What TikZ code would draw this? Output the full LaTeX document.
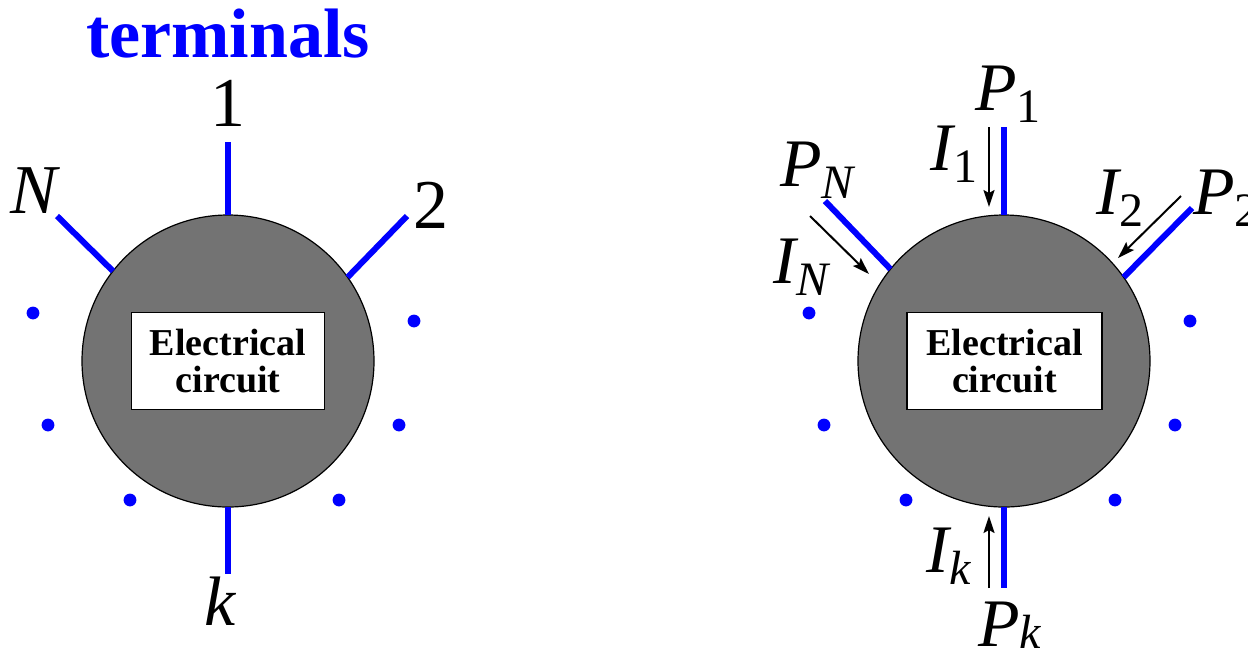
\documentclass[tikz,border=0pt]{standalone}
\usepackage{fontspec}
\setmainfont{Liberation Serif}
\usetikzlibrary{arrows.meta}
\definecolor{circgray}{RGB}{115,115,115}
\definecolor{wireblue}{RGB}{0,0,255}
\newcommand{\lsub}[2][-6pt]{\raisebox{#1}{\fontsize{24}{24}\selectfont #2}}
\begin{document}
\begin{tikzpicture}[x=0.5pt,y=-0.5pt,
  body/.style={circle,draw=black,line width=0.6pt,fill=circgray,minimum size=146pt,inner sep=0pt,outer sep=0pt},
  box/.style={draw=black,line width=0.6pt,fill=white,minimum width=96.5pt,minimum height=48.5pt,inner sep=0pt,align=center,font=\fontsize{19}{18.5}\selectfont\bfseries},
  wire/.style={wireblue,line width=3pt},
  cur/.style={black,line width=1pt,-{Stealth[length=8.5pt,width=5.5pt,inset=1.5pt]}},
  dot/.style={circle,fill=wireblue,minimum size=6.4pt,inner sep=0pt},
  lab/.style={inner sep=0pt,anchor=base west,font=\fontsize{35}{35}\selectfont},
  rlab/.style={inner sep=0pt,anchor=base west,font=\fontsize{34}{34}\selectfont},
]
\useasboundingbox (0,0) rectangle (1248,661);

% ---------- left figure ----------
\node[body] (Lc) at (228,361) {};
\node[box] (Lb) at (228,361) {Electrical\\circuit};

\coordinate (L1) at (228,142);
\coordinate (LN) at (57,216);
\coordinate (L2) at (407,216);
\coordinate (Lk) at (228,574);
\draw[wire] (L1) -- (Lc.90);
\draw[wire] (LN) -- (Lc.142);
\draw[wire] (L2) -- (Lc.35.5);
\draw[wire] (Lc.270) -- (Lk);

\node[lab,anchor=base,font=\fontsize{35}{35}\selectfont\bfseries,text=wireblue] (title) at (228,57) {terminals};
\node[lab,anchor=base] (n1) at (228,126) {1};
\node[lab] (nN) at (10,213) {\itshape N};
\node[lab] (n2) at (413,228) {2};
\node[lab] (nk) at (204,625) {\itshape k};

\node[dot] (ld1) at (33,313) {};
\node[dot] (ld2) at (48,425) {};
\node[dot] (ld3) at (130,500) {};
\node[dot] (ld4) at (339,500) {};
\node[dot] (ld5) at (399,425) {};
\node[dot] (ld6) at (414,321) {};

% ---------- right figure ----------
\node[body] (Rc) at (1004,361) {};
\node[box,minimum width=97.5pt] (Rb) at (1004.5,361) {Electrical\\circuit};

\coordinate (R1) at (1004,127);
\coordinate (RN) at (825,201);
\coordinate (R2) at (1192,208);
\coordinate (Rk) at (1004,588);
\draw[wire] (R1) -- (Rc.90);
\draw[wire] (RN) -- (Rc.141);
\draw[wire] (R2) -- (Rc.35);
\draw[wire] (Rc.270) -- (Rk);

\coordinate (a1s) at (989,127);
\coordinate (a1e) at (989,207);
\coordinate (aNs) at (810,216);
\coordinate (aNe) at (869,274);
\coordinate (a2s) at (1181,196);
\coordinate (a2e) at (1118,258);
\coordinate (aks) at (989,588);
\coordinate (ake) at (989,516);
\draw[cur] (a1s) -- (a1e);
\draw[cur] (aNs) -- (aNe);
\draw[cur] (a2s) -- (a2e);
\draw[cur] (aks) -- (ake);

\node[rlab] (p1) at (975,110) {\itshape P\lsub{\upshape 1}};
\node[rlab] (i1) at (930,170) {\itshape I\lsub{\upshape 1}};
\node[rlab] (pN) at (780,186) {\itshape P\lsub{\itshape N}};
\node[rlab] (iN) at (773,283) {\itshape I\lsub{\itshape N}};
\node[rlab] (i2) at (1096,214) {\itshape I\lsub{\upshape 2}};
\node[rlab] (p2) at (1193,214) {\itshape P\lsub{\upshape 2}};
\node[rlab] (ik) at (926,572) {\itshape I\lsub{\itshape k}};
\node[rlab] (pk) at (978,646) {\itshape P\lsub[-1pt]{\itshape k}};

\node[dot] (rd1) at (809,313) {};
\node[dot] (rd2) at (824,425) {};
\node[dot] (rd3) at (906,500) {};
\node[dot] (rd4) at (1115,500) {};
\node[dot] (rd5) at (1175,425) {};
\node[dot] (rd6) at (1190,321) {};
\end{tikzpicture}
\end{document}
